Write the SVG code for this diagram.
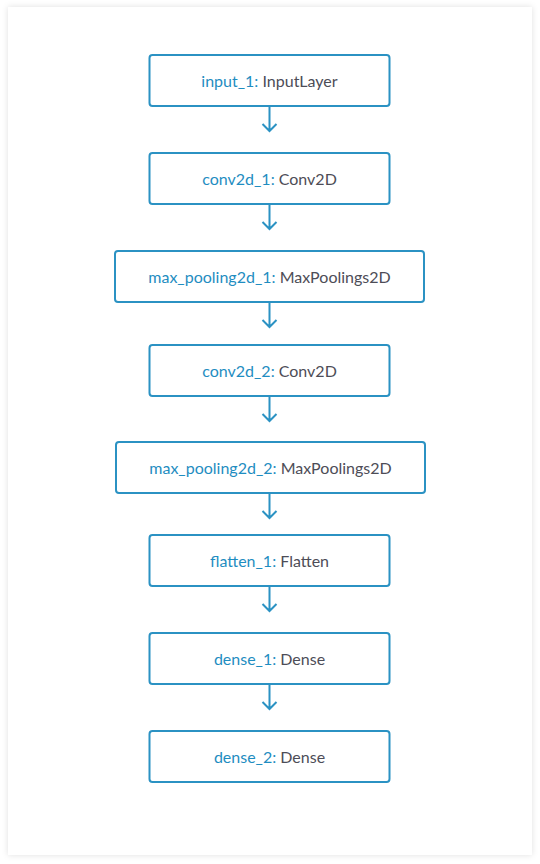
<svg xmlns="http://www.w3.org/2000/svg" width="540" height="864" viewBox="0 0 540 864">
<style>
.box{fill:#ffffff;stroke:#2b92c3;stroke-width:2}
.lbl{font-family:Lato,"Open Sans","Liberation Sans",sans-serif;font-size:16px;text-anchor:middle}
.nm{fill:#1f8dc1}
.ty{fill:#4d4d57}
.edge{fill:none;stroke:#2b92c3;stroke-width:2}
</style>
<defs>
<filter id="sh" x="-5%" y="-5%" width="110%" height="110%">
<feDropShadow dx="0" dy="0" stdDeviation="3" flood-color="#000" flood-opacity="0.12"/>
</filter>
</defs>
<rect x="0" y="0" width="540" height="864" fill="#ffffff"/>
<rect x="8" y="7" width="524" height="848" fill="#ffffff" filter="url(#sh)"/>
<g id="connectors">
<path class="edge" d="M269.5 106V131M262.5 124L269.5 131L276.5 124"/>
<path class="edge" d="M269.5 204V229M262.5 222L269.5 229L276.5 222"/>
<path class="edge" d="M269.5 302V327M262.5 320L269.5 327L276.5 320"/>
<path class="edge" d="M269.5 396V421M262.5 414L269.5 421L276.5 414"/>
<path class="edge" d="M269.5 493V518M262.5 511L269.5 518L276.5 511"/>
<path class="edge" d="M269.5 586V611M262.5 604L269.5 611L276.5 604"/>
<path class="edge" d="M269.5 684V709M262.5 702L269.5 709L276.5 702"/>
</g>
<g id="input_1">
<rect class="box" x="149.5" y="55" width="240" height="51" rx="3"/>
<text class="lbl" x="269.5" y="86.5"><tspan class="nm">input_1:</tspan><tspan class="ty"> InputLayer</tspan></text>
</g>
<g id="conv2d_1">
<rect class="box" x="149.5" y="153" width="240" height="51" rx="3"/>
<text class="lbl" x="269.5" y="184.5"><tspan class="nm">conv2d_1:</tspan><tspan class="ty"> Conv2D</tspan></text>
</g>
<g id="max_pooling2d_1">
<rect class="box" x="115" y="251" width="309" height="51" rx="3"/>
<text class="lbl" x="269.5" y="282.5"><tspan class="nm">max_pooling2d_1:</tspan><tspan class="ty"> MaxPoolings2D</tspan></text>
</g>
<g id="conv2d_2">
<rect class="box" x="149.5" y="345" width="240" height="51" rx="3"/>
<text class="lbl" x="269.5" y="376.5"><tspan class="nm">conv2d_2:</tspan><tspan class="ty"> Conv2D</tspan></text>
</g>
<g id="max_pooling2d_2">
<rect class="box" x="116" y="442" width="309" height="51" rx="3"/>
<text class="lbl" x="270.5" y="473.5"><tspan class="nm">max_pooling2d_2:</tspan><tspan class="ty"> MaxPoolings2D</tspan></text>
</g>
<g id="flatten_1">
<rect class="box" x="149.5" y="535" width="240" height="51" rx="3"/>
<text class="lbl" x="269.5" y="566.5"><tspan class="nm">flatten_1:</tspan><tspan class="ty"> Flatten</tspan></text>
</g>
<g id="dense_1">
<rect class="box" x="149.5" y="633" width="240" height="51" rx="3"/>
<text class="lbl" x="269.5" y="664.5"><tspan class="nm">dense_1:</tspan><tspan class="ty"> Dense</tspan></text>
</g>
<g id="dense_2">
<rect class="box" x="149.5" y="731" width="240" height="51" rx="3"/>
<text class="lbl" x="269.5" y="762.5"><tspan class="nm">dense_2:</tspan><tspan class="ty"> Dense</tspan></text>
</g>
</svg>
